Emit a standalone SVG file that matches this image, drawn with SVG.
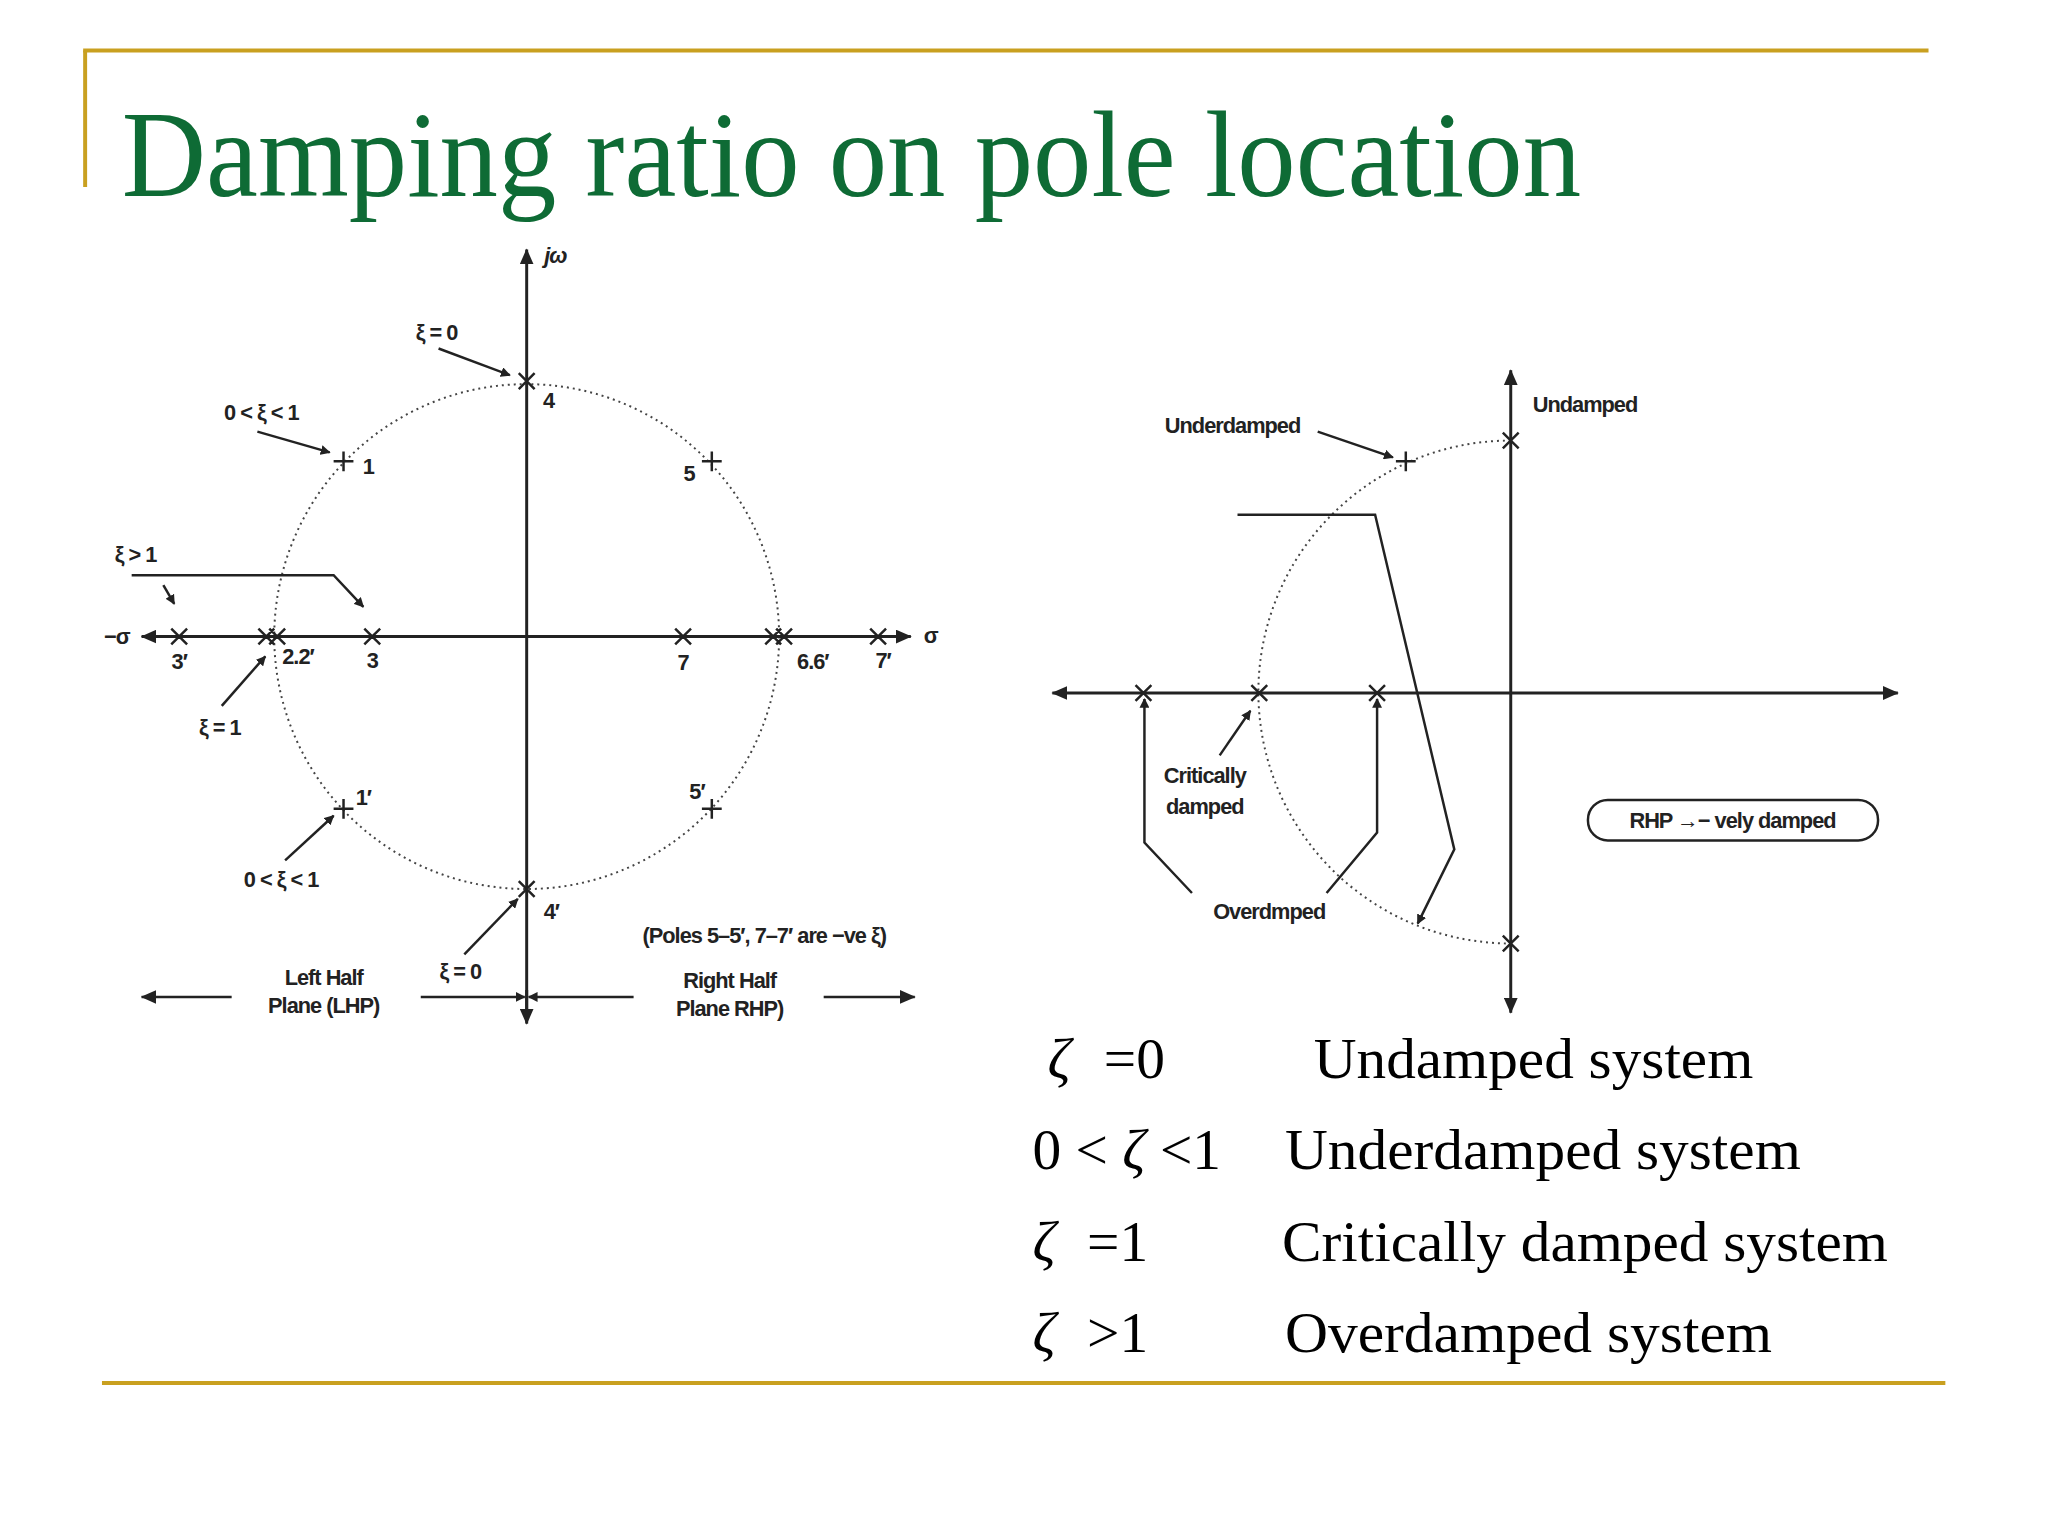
<svg xmlns="http://www.w3.org/2000/svg" width="2048" height="1536" viewBox="0 0 2048 1536">
<defs>
<marker id="ah" markerWidth="10" markerHeight="10" refX="9" refY="5" orient="auto" markerUnits="userSpaceOnUse"><path d="M0,0 L10,5 L0,10 Z" fill="#222"/></marker>
<marker id="ahb" markerWidth="16" markerHeight="14" refX="15" refY="7" orient="auto" markerUnits="userSpaceOnUse"><path d="M0,0 L16,7 L0,14 Z" fill="#222"/></marker>
</defs>
<style>
.ax{stroke:#222;stroke-width:3;fill:none}
.ln{stroke:#222;stroke-width:2.5;fill:none}
.dot{stroke:#444;stroke-width:2;stroke-dasharray:2 4;fill:none}
.lb{font-family:"Liberation Sans",Arial,sans-serif;font-size:22px;font-weight:bold;fill:#222;letter-spacing:-1px}
.lg{font-family:"Liberation Serif","Times New Roman",serif;font-size:58px;fill:#000}
.gold{stroke:#c9a020;stroke-width:4}
</style>
<rect width="2048" height="1536" fill="#fff"/>
<g transform="scale(0.99)">
<line class="gold" x1="84" y1="51" x2="1948" y2="51"/>
<line class="gold" x1="86" y1="51" x2="86" y2="189"/>
<line class="gold" x1="103" y1="1397" x2="1965" y2="1397"/>
<text x="123" y="198" font-family="Liberation Serif,'Times New Roman',serif" font-size="124" fill="#0e6b35" textLength="1474" lengthAdjust="spacingAndGlyphs">Damping ratio on pole location</text>

<g id="left-diagram">
<circle class="dot" cx="532" cy="643" r="255"/>
<line class="ax" x1="532" y1="1030" x2="532" y2="252" marker-end="url(#ahb)"/>
<line class="ax" x1="532" y1="1000" x2="532" y2="1034" marker-end="url(#ahb)"/>
<line class="ax" x1="880" y1="643" x2="143" y2="643" marker-end="url(#ahb)"/>
<line class="ax" x1="860" y1="643" x2="920" y2="643" marker-end="url(#ahb)"/>
<g class="ln">
<path d="M524,377 l16,16 M540,377 l-16,16 M524,890 l16,16 M540,890 l-16,16"/>
<path d="M337,466 h20 M347,456 v20 M709,466 h20 M719,456 v20 M337,817 h20 M347,807 v20 M709,817 h20 M719,807 v20"/>
<path d="M173,635 l16,16 M189,635 l-16,16 M261,635 l16,16 M277,635 l-16,16 M272,635 l16,16 M288,635 l-16,16 M368,635 l16,16 M384,635 l-16,16 M682,635 l16,16 M698,635 l-16,16 M773,635 l16,16 M789,635 l-16,16 M784,635 l16,16 M800,635 l-16,16 M879,635 l16,16 M895,635 l-16,16"/>
</g>
<g class="ln">
<line x1="443" y1="352" x2="515" y2="379" marker-end="url(#ah)"/>
<line x1="260" y1="436" x2="333" y2="457" marker-end="url(#ah)"/>
<polyline points="133,581 337,581 367,613" marker-end="url(#ah)"/>
<line x1="165" y1="591" x2="176" y2="610" marker-end="url(#ah)"/>
<line x1="224" y1="713" x2="268" y2="663" marker-end="url(#ah)"/>
<line x1="288" y1="869" x2="337" y2="824" marker-end="url(#ah)"/>
<line x1="469" y1="964" x2="523" y2="908" marker-end="url(#ah)"/>
<line x1="234" y1="1007" x2="143" y2="1007" marker-end="url(#ahb)"/>
<line x1="832" y1="1007" x2="924" y2="1007" marker-end="url(#ahb)"/>
<line x1="425" y1="1007" x2="530" y2="1007" marker-end="url(#ah)"/>
<line x1="640" y1="1007" x2="534" y2="1007" marker-end="url(#ah)"/>
</g>
<text class="lb" x="561" y="266" font-style="italic" text-anchor="middle">jω</text>
<text class="lb" x="118" y="651" text-anchor="middle">−σ</text>
<text class="lb" x="940" y="650" text-anchor="middle">σ</text>
<text class="lb" x="441" y="343" text-anchor="middle">ξ = 0</text>
<text class="lb" x="264" y="424" text-anchor="middle">0 &lt; ξ &lt; 1</text>
<text class="lb" x="137" y="568" text-anchor="middle">ξ &gt; 1</text>
<text class="lb" x="222" y="742" text-anchor="middle">ξ = 1</text>
<text class="lb" x="284" y="896" text-anchor="middle">0 &lt; ξ &lt; 1</text>
<text class="lb" x="465" y="989" text-anchor="middle">ξ = 0</text>
<text class="lb" x="554" y="412" text-anchor="middle">4</text>
<text class="lb" x="557" y="928" text-anchor="middle">4′</text>
<text class="lb" x="372" y="479" text-anchor="middle">1</text>
<text class="lb" x="696" y="486" text-anchor="middle">5</text>
<text class="lb" x="367" y="813" text-anchor="middle">1′</text>
<text class="lb" x="704" y="807" text-anchor="middle">5′</text>
<text class="lb" x="181" y="676" text-anchor="middle">3′</text>
<text class="lb" x="301" y="671" text-anchor="middle">2.2′</text>
<text class="lb" x="376" y="675" text-anchor="middle">3</text>
<text class="lb" x="690" y="677" text-anchor="middle">7</text>
<text class="lb" x="821" y="676" text-anchor="middle">6.6′</text>
<text class="lb" x="892" y="675" text-anchor="middle">7′</text>
<text class="lb" x="772" y="953" text-anchor="middle">(Poles 5–5′, 7–7′ are −ve ξ)</text>
<text class="lb" x="327" y="995" text-anchor="middle">Left Half</text>
<text class="lb" x="327" y="1023" text-anchor="middle">Plane (LHP)</text>
<text class="lb" x="737" y="998" text-anchor="middle">Right Half</text>
<text class="lb" x="737" y="1026" text-anchor="middle">Plane RHP)</text>
</g>

<g id="right-diagram">
<path class="dot" d="M1526,445 A255,254 0 0 0 1526,953"/>
<line class="ax" x1="1526" y1="700" x2="1526" y2="374" marker-end="url(#ahb)"/>
<line class="ax" x1="1526" y1="700" x2="1526" y2="1023" marker-end="url(#ahb)"/>
<line class="ax" x1="1526" y1="700" x2="1063" y2="700" marker-end="url(#ahb)"/>
<line class="ax" x1="1526" y1="700" x2="1917" y2="700" marker-end="url(#ahb)"/>
<g class="ln">
<path d="M1518,437 l16,16 M1534,437 l-16,16 M1518,945 l16,16 M1534,945 l-16,16 M1147,692 l16,16 M1163,692 l-16,16 M1264,692 l16,16 M1280,692 l-16,16 M1383,692 l16,16 M1399,692 l-16,16"/>
<path d="M1410,466 h20 M1420,456 v20"/>
<line x1="1331" y1="436" x2="1407" y2="462" marker-end="url(#ah)"/>
<polyline points="1250,520 1389,520 1469,858 1432,933" marker-end="url(#ah)"/>
<line x1="1232" y1="763" x2="1263" y2="718" marker-end="url(#ah)"/>
<polyline points="1204,902 1156,851 1156,706" marker-end="url(#ah)"/>
<polyline points="1340,902 1391,841 1391,706" marker-end="url(#ah)"/>
</g>
<rect x="1604" y="808" width="293" height="41" rx="20" class="ln"/>
<text class="lb" x="1601" y="416" text-anchor="middle">Undamped</text>
<text class="lb" x="1245" y="437" text-anchor="middle">Underdamped</text>
<text class="lb" x="1217" y="791" text-anchor="middle">Critically</text>
<text class="lb" x="1217" y="822" text-anchor="middle">damped</text>
<text class="lb" x="1282" y="928" text-anchor="middle">Overdmped</text>
<text class="lb" x="1750" y="836" text-anchor="middle">RHP →− vely damped</text>
</g>

<g id="legend" class="lg">
<text x="1058" y="1089" font-style="italic">ζ</text><text x="1115" y="1089">=0</text><text x="1327" y="1089" textLength="444" lengthAdjust="spacingAndGlyphs">Undamped system</text>
<text x="1043" y="1181">0 &lt; <tspan font-style="italic">ζ</tspan> &lt;1</text><text x="1298" y="1181" textLength="521" lengthAdjust="spacingAndGlyphs">Underdamped system</text>
<text x="1043" y="1274" font-style="italic">ζ</text><text x="1098" y="1274">=1</text><text x="1295" y="1274" textLength="612" lengthAdjust="spacingAndGlyphs">Critically damped system</text>
<text x="1043" y="1366" font-style="italic">ζ</text><text x="1098" y="1366">&gt;1</text><text x="1298" y="1366" textLength="492" lengthAdjust="spacingAndGlyphs">Overdamped system</text>
</g>
</g>
</svg>
